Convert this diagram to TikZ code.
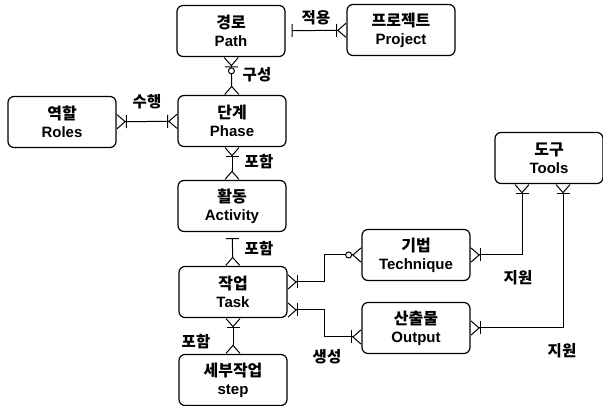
\documentclass[tikz,border=0pt]{standalone}
\usepackage{fontspec}
\setmainfont{Liberation Sans}
\newfontfamily\kr{Noto Sans CJK KR}
\usetikzlibrary{arrows.meta}

\tikzset{
  entity/.style={draw, line width=1.2pt, rounded corners=6pt, minimum width=108pt,
    minimum height=51pt, align=center, inner sep=1pt, font=\bfseries\fontsize{15}{18}\selectfont},
  rel/.style={font=\kr\bfseries\fontsize{15.5}{17}\selectfont},
  link/.style={line width=1pt},
  many/.tip={Bar[width=13pt,line width=1pt] Straight Barb[reversed,length=8pt,width=14pt,line width=1pt]},
  zmany/.tip={Circle[open,fill=white,length=7pt,width=7pt,line width=1pt] Straight Barb[reversed,length=8pt,width=14pt,line width=1pt]},
  zbmany/.tip={Circle[open,fill=white,length=7pt,width=7pt,line width=1pt] Bar[width=13pt,line width=1pt] Straight Barb[reversed,length=8pt,width=14pt,line width=1pt]},
  fork/.tip={Straight Barb[reversed,length=8pt,width=14pt,line width=1pt]},
  one/.tip={Bar[width=13pt,line width=1pt,sep=6pt]}
}
\newcommand\ent[2]{{\kr\fontsize{16}{18}\selectfont #1}\\#2}

\begin{document}
\begin{tikzpicture}[x=1pt,y=-1pt]
  \useasboundingbox (0,0) rectangle (603,406);

  % entities
  \node[entity] (path) at (231,31) {\ent{경로}{Path}};
  \node[entity] (project) at (401,30) {\ent{프로젝트}{Project}};
  \node[entity] (roles) at (62,122) {\ent{역할}{Roles}};
  \node[entity] (phase) at (232,121) {\ent{단계}{Phase}};
  \node[entity] (activity) at (232,206) {\ent{활동}{Activity}};
  \node[entity] (task) at (233,292) {\ent{작업}{Task}};
  \node[entity] (step) at (233,380) {\ent{세부작업}{step}};
  \node[entity] (technique) at (416,255) {\ent{기법}{Technique}};
  \node[entity] (output) at (416,328) {\ent{산출물}{Output}};
  \node[entity] (tools) at (549,158) {\ent{도구}{Tools}};

  % relations
  \draw[link, one-many] (path) -- (project);
  \draw[link, zbmany-fork] (path) -- (phase);
  \draw[link, many-many] (roles) -- (phase);
  \draw[link, many-fork] (phase) -- (activity);
  \draw[link, one-fork] (activity) -- (task);
  \draw[link, many-fork] (task) -- (step);
  \draw[link, many-zmany] ([yshift=10pt]task.east) -- ++(37,0) |- (technique.west);
  \draw[link, many-many] ([yshift=-18pt]task.east) -- ++(37,0) |- ([yshift=-9pt]output.west);
  \draw[link, many-many] (technique.east) -| ([xshift=-27pt]tools.south);
  \draw[link, many-many] (output.east) -| ([xshift=14pt]tools.south);

  % labels
  \node[rel] (l1) at (316,18) {적용};
  \node[rel] (l2) at (257,75) {구성};
  \node[rel] (l3) at (147,102) {수행};
  \node[rel] (l4) at (259,162) {포함};
  \node[rel] (l5) at (259,249) {포함};
  \node[rel] (l6) at (196,342) {포함};
  \node[rel] (l7) at (327,357) {생성};
  \node[rel] (l8) at (518,278) {지원};
  \node[rel] (l9) at (562,351) {지원};
\end{tikzpicture}
\end{document}
